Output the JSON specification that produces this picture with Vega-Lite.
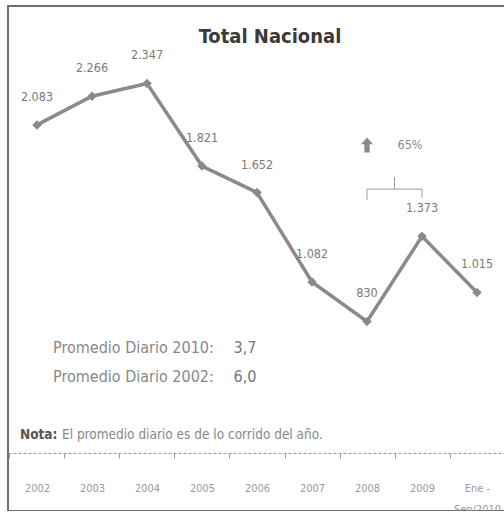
{
  "$schema": "https://vega.github.io/schema/vega-lite/v6.json",
  "autosize": {"type": "none"},
  "padding": {"left": 8, "top": 6, "right": 0, "bottom": 0},
  "width": 498,
  "height": 505,
  "background": "white",
  "config": {
    "view": {"stroke": "#6e6e6e", "strokeWidth": 2},
    "font": "DejaVu Sans Condensed, Roboto"
  },
  "datasets": {
    "main": [
      {"x": "2002", "v": 2083, "label": "2.083"},
      {"x": "2003", "v": 2266, "label": "2.266"},
      {"x": "2004", "v": 2347, "label": "2.347"},
      {"x": "2005", "v": 1821, "label": "1.821"},
      {"x": "2006", "v": 1652, "label": "1.652"},
      {"x": "2007", "v": 1082, "label": "1.082"},
      {"x": "2008", "v": 830, "label": "830"},
      {"x": "2009", "v": 1373, "label": "1.373"},
      {"x": "Ene - Sep/2010", "v": 1015, "label": "1.015"}
    ],
    "titletext": [{"x": "2006", "v": 2605, "t": "Total Nacional"}],
    "bracket": [
      {"x": "2008", "v": 1605, "o": 1},
      {"x": "2008", "v": 1674, "o": 2},
      {"x": "2009", "v": 1674, "o": 3},
      {"x": "2009", "v": 1620, "o": 4}
    ],
    "tick": [{"x": "2008", "v": 1674, "v2": 1751}],
    "arrow": [{"x": "2008", "v": 1955, "t": "65%"}],
    "prom": [
      {"x": "2002", "v": 661, "t": "Promedio Diario 2010:"},
      {"x": "2002", "v": 476, "t": "Promedio Diario 2002:"}
    ],
    "promval": [
      {"x": "2006", "v": 661, "t": "3,7"},
      {"x": "2006", "v": 476, "t": "6,0"}
    ],
    "nota": [{"x": "2002", "v": 106, "t": "Nota:"}],
    "notatext": [{"x": "2002", "v": 106, "t": "El promedio diario es de lo corrido del año."}]
  },
  "encoding": {
    "x": {
      "field": "x",
      "type": "nominal",
      "scale": {
        "type": "band",
        "domain": ["2002", "2003", "2004", "2005", "2006", "2007", "2008", "2009", "Ene - Sep/2010"],
        "paddingInner": 0,
        "paddingOuter": 0.027
      },
      "axis": {
        "title": null,
        "orient": "bottom",
        "offset": -58,
        "labelAngle": 0,
        "domainColor": "#9a9a9a",
        "domainDash": [3, 2],
        "domainWidth": 1,
        "tickColor": "#9a9a9a",
        "tickSize": 5,
        "tickBand": "extent",
        "labelPadding": 24,
        "labelFont": "DejaVu Sans Condensed, Roboto",
        "labelFontSize": 11,
        "labelColor": "#9a9a9a",
        "labelLineHeight": 21,
        "labelExpr": "datum.value == 'Ene - Sep/2010' ? ['Ene -', 'Sep/2010'] : datum.value"
      }
    },
    "y": {
      "field": "v",
      "type": "quantitative",
      "scale": {"domain": [-378, 2841], "nice": false, "zero": false},
      "axis": null
    }
  },
  "layer": [
    {
      "data": {"name": "titletext"},
      "mark": {"type": "text", "dx": 13, "align": "center", "baseline": "alphabetic", "fontSize": 20, "fontWeight": "bold", "color": "#3a3a3a"},
      "encoding": {"text": {"field": "t"}}
    },
    {
      "data": {"name": "main"},
      "mark": {
        "type": "line",
        "color": "#8a8a8a",
        "strokeWidth": 3.5,
        "point": {"shape": "diamond", "size": 90, "filled": true, "color": "#8a8a8a"}
      }
    },
    {
      "data": {"name": "main"},
      "mark": {"type": "text", "dy": -28, "baseline": "middle", "fontSize": 12.5, "color": "#7a7a7a"},
      "encoding": {"text": {"field": "label"}}
    },
    {
      "data": {"name": "bracket"},
      "mark": {"type": "line", "color": "#9a9a9a", "strokeWidth": 1},
      "encoding": {"order": {"field": "o"}}
    },
    {
      "data": {"name": "tick"},
      "mark": {"type": "rule", "color": "#9a9a9a", "strokeWidth": 1},
      "encoding": {
        "x": {"field": "x", "type": "nominal", "bandPosition": 1},
        "y2": {"field": "v2"}
      }
    },
    {
      "data": {"name": "arrow"},
      "mark": {
        "type": "point",
        "shape": "M0,-1L0.8,-0.1L0.35,-0.1L0.35,1L-0.35,1L-0.35,-0.1L-0.8,-0.1Z",
        "size": 230,
        "filled": true,
        "color": "#8a8a8a",
        "opacity": 1
      }
    },
    {
      "data": {"name": "arrow"},
      "mark": {"type": "text", "dx": 43, "baseline": "middle", "fontSize": 12.5, "color": "#8a8a8a"},
      "encoding": {"text": {"field": "t"}}
    },
    {
      "data": {"name": "prom"},
      "mark": {"type": "text", "dx": 16, "align": "left", "baseline": "middle", "fontSize": 16, "color": "#888888"},
      "encoding": {"text": {"field": "t"}}
    },
    {
      "data": {"name": "promval"},
      "mark": {"type": "text", "dx": -12, "align": "center", "baseline": "middle", "fontSize": 16, "color": "#777777"},
      "encoding": {"text": {"field": "t"}}
    },
    {
      "data": {"name": "nota"},
      "mark": {"type": "text", "dx": -17, "align": "left", "baseline": "middle", "fontSize": 13.5, "fontWeight": "bold", "color": "#555555"},
      "encoding": {"text": {"field": "t"}}
    },
    {
      "data": {"name": "notatext"},
      "mark": {"type": "text", "dx": 25, "align": "left", "baseline": "middle", "fontSize": 13.5, "color": "#888888"},
      "encoding": {"text": {"field": "t"}}
    }
  ]
}
